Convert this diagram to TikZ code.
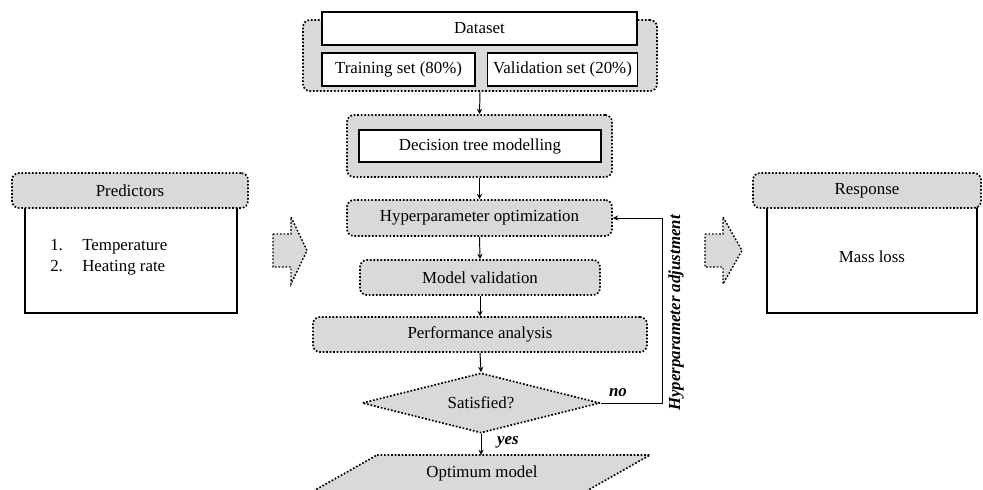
\documentclass[tikz,border=0pt]{standalone}
\usepackage{fontspec}
\setmainfont{Liberation Serif}
\usetikzlibrary{shapes.geometric}

\begin{document}
\begin{tikzpicture} [x=0.025cm, y=-0.025cm,
            font=\fontsize{12}{14}\selectfont,
            dotbox/.style = {draw, fill=gray!30, rounded corners=5pt,
                line width=1.2pt, dash pattern=on 1.2pt off 1.3pt,
                inner sep=0pt},
            whitebox/.style = {draw, fill=white, line width=1.2pt,
                inner sep=0pt},
            remark/.style = {font=\fontsize{12}{14}\selectfont\bfseries\itshape}]

        \useasboundingbox (0,0) rectangle (983,489);
        \clip (0,0) rectangle (983,489);

        % Dataset group
        \node (dataouter) [dotbox,
            minimum width=8.85cm, minimum height=1.775cm] at (480,55.5) {};
        \node (dataset) [whitebox,
            minimum width=7.875cm, minimum height=0.825cm] at (479.5,28.5) {Dataset};
        \node (train) [whitebox,
            minimum width=3.825cm, minimum height=0.825cm] at (398.5,69.5) {Training set (80\%)};
        \node (valid) [whitebox,
            minimum width=3.75cm, minimum height=0.825cm] at (562.5,69.5) {Validation set (20\%)};

        % Decision tree group
        \node (treeouter) [dotbox,
            minimum width=6.625cm, minimum height=1.55cm] at (479.5,146) {};
        \node (tree) [whitebox,
            minimum width=6.05cm, minimum height=0.8cm] at (480,146) {Decision tree modelling};

        % Flow steps
        \node (hyper) [dotbox,
            minimum width=6.625cm, minimum height=0.9cm] at (479.5,218) {Hyperparameter optimization};
        \node (modelval) [dotbox,
            minimum width=6cm, minimum height=0.875cm] at (480,277.5) {Model validation};
        \node (perf) [dotbox,
            minimum width=8.35cm, minimum height=0.875cm] at (480,334.5) {Performance analysis};

        % Decision
        \node (sat) [dotbox, diamond, rounded corners=0pt, aspect=4,
            minimum width=5.95cm, minimum height=1.5cm] at (481,403) {Satisfied?};

        % Optimum model
        \draw [dotbox, rounded corners=0pt]
            (377,455) -- (650,455) -- (586.5,491) -- (313.5,491) -- cycle;
        \node (optimum) at (482,473) {Optimum model};
        \coordinate (opttop) at (481,455);

        % Predictors
        \node (predbox) [whitebox,
            minimum width=5.3cm, minimum height=3.075cm] at (131,251.5) {};
        \node (predhead) [dotbox,
            minimum width=5.9cm, minimum height=0.875cm] at (130,190.5) {Predictors};
        \node (preditems) [anchor=west, align=left, inner sep=0pt,
            font=\fontsize{12}{15}\selectfont] at (50,257.5)
            {\makebox[0.8cm][l]{1.}Temperature\\ \makebox[0.8cm][l]{2.}Heating rate};

        % Response
        \node (respbox) [whitebox,
            minimum width=5.25cm, minimum height=3.075cm] at (872,251.5) {};
        \node (resphead) [dotbox,
            minimum width=5.7cm, minimum height=0.875cm] at (867,190.5) {Response};
        \node (massloss) at (872,257) {Mass loss};

        % Block arrows
        \draw [dotbox, rounded corners=0pt, line width=1pt]
            (273,234) -- (291,234) -- (291,217) -- (307,250.5) -- (291,284)
            -- (291,267) -- (273,267) -- cycle;
        \draw [dotbox, rounded corners=0pt, line width=1pt]
            (705,234) -- (723,234) -- (723,217) -- (742,250.5) -- (723,284)
            -- (723,267) -- (705,267) -- cycle;

        % Arrows
        \coordinate (turn) at (662,403);
        \path [-stealth, line width=0.7pt]
            (dataouter.south) edge (treeouter.north)
            (treeouter.south) edge (hyper.north)
            (hyper.south) edge (modelval.north)
            (modelval.south) edge (perf.north)
            (perf.south) edge (sat.north)
            (sat.south) edge (opttop);
        \draw [-stealth, line width=0.7pt]
            (sat.east) -- (turn) |- (hyper.east);

        % Labels
        \node (no) [remark] at (618,393) {no};
        \node (yes) [remark] at (508,442) {yes};
        \node (adjust) [remark, rotate=90] at (676,313) {Hyperparameter adjustment};
        \end{tikzpicture}
\end{document}
